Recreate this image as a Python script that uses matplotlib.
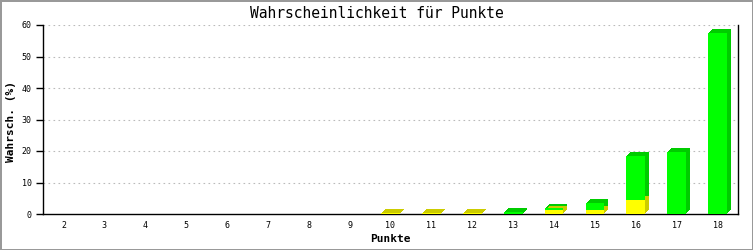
import matplotlib
matplotlib.use("Agg")
import matplotlib.pyplot as plt
from matplotlib.transforms import offset_copy

# Punkte 2..18, Wahrscheinlichkeit in %
punkte = list(range(2, 19))
gelb = [0, 0, 0, 0, 0, 0, 0, 0, 0.3, 0.3, 0.3, 0, 1.15, 1.4, 4.6, 0, 0]
gruen = [0, 0, 0, 0, 0, 0, 0, 0, 0, 0, 0, 0.5, 0.75, 2.1, 13.9, 19.8, 57.6]
y_ticks = [0, 10, 20, 30, 40, 50, 60]

plt.rcParams['font.family'] = ['DejaVu Sans Mono']

fig = plt.figure(figsize=(7.53, 2.5), dpi=100, facecolor='white',
                 edgecolor='#999999', linewidth=2)
ax = fig.add_axes([43 / 753, 36 / 250, 695 / 753, 189 / 250])

x = list(range(len(punkte)))
breite = 0.46

# Schatten (3D-Effekt) zuerst, dann die Vorderseiten
for k in range(1, 5):
    tr = offset_copy(ax.transData, fig=fig, x=k, y=k, units='dots')
    ax.bar(x, gelb, width=breite, color='#cccc00', linewidth=0, transform=tr, zorder=2)
    ax.bar(x, gruen, width=breite, bottom=gelb, color='#00cc00', linewidth=0,
           transform=tr, zorder=2)
ax.bar(x, gelb, width=breite, color='#ffff00', linewidth=0, zorder=3)
ax.bar(x, gruen, width=breite, bottom=gelb, color='#00ff00', linewidth=0, zorder=3)

ax.set_xlim(-0.5, len(punkte) - 0.5)
ax.set_ylim(0, 60)
ax.set_yticks(y_ticks)
ax.set_yticklabels([str(v) for v in y_ticks], fontsize=6)
ax.set_xticks(x)
ax.set_xticklabels([str(p) for p in punkte], fontsize=6)
ax.tick_params(axis='x', length=0, pad=5)
ax.tick_params(axis='y', length=5, width=1, pad=3, direction='out')

for v in y_ticks[1:]:
    ax.axhline(v, color='#bbbbbb', linewidth=0.8, dashes=(1.5, 3), zorder=1)

for s in ['left', 'bottom', 'right']:
    ax.spines[s].set_linewidth(1)
    ax.spines[s].set_color('black')
ax.spines['top'].set_visible(False)

fig.text(0.5, 1 - 13 / 250, 'Wahrscheinlichkeit für Punkte', ha='center', va='center',
         fontsize=10.5)
ax.set_xlabel('Punkte', fontsize=8, fontweight='bold')
ax.set_ylabel('Wahrsch. (%)', fontsize=8, fontweight='bold')
ax.xaxis.set_label_coords(0.5, -0.106)
ax.yaxis.set_label_coords(-0.039, 0.492)

fig.savefig('out.png', dpi=100, facecolor='white', edgecolor='#999999')
